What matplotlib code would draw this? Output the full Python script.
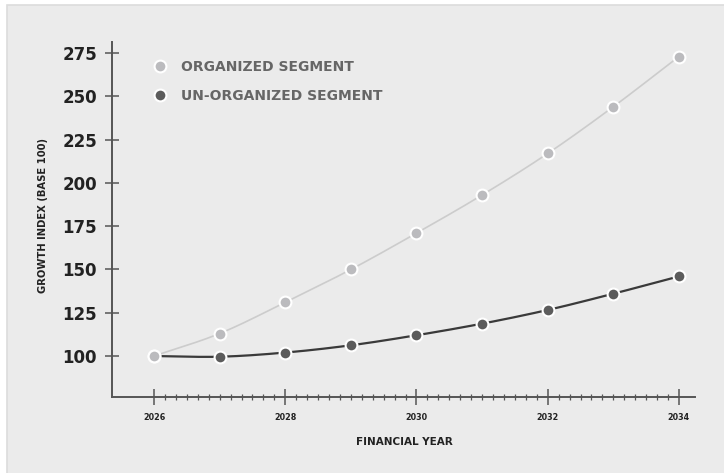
import numpy as np
import matplotlib
matplotlib.use('Agg')
import matplotlib.pyplot as plt
from matplotlib.patches import Rectangle
from matplotlib.lines import Line2D
from matplotlib.ticker import FixedLocator

years = [2026, 2027, 2028, 2029, 2030, 2031, 2032, 2033, 2034]
organized = [100, 113, 131, 150, 171, 193, 217, 244, 273]
unorganized = [100, 99.6, 102, 106.2, 112, 118.7, 126.6, 136, 146]
labels = ['ORGANIZED SEGMENT', 'UN-ORGANIZED SEGMENT']
y_ticks = [100, 125, 150, 175, 200, 225, 250, 275]
x_ticks = [2026, 2028, 2030, 2032, 2034]

light_dot = '#bbbbbe'
light_line = '#cccccc'
dark_dot = '#5c5c5c'
dark_line = '#3a3a3a'


def smooth(x, y, n=20):
    # catmull-rom curve through the points, only for drawing the line
    x = np.asarray(x, float)
    y = np.asarray(y, float)
    px = np.concatenate([[2 * x[0] - x[1]], x, [2 * x[-1] - x[-2]]])
    py = np.concatenate([[2 * y[0] - y[1]], y, [2 * y[-1] - y[-2]]])
    xs, ys = [], []
    t = np.linspace(0, 1, n)
    for i in range(1, len(px) - 2):
        for p, out in ((px, xs), (py, ys)):
            p0, p1, p2, p3 = p[i - 1], p[i], p[i + 1], p[i + 2]
            out.extend(0.5 * (2 * p1 + (-p0 + p2) * t
                              + (2 * p0 - 5 * p1 + 4 * p2 - p3) * t ** 2
                              + (-p0 + 3 * p1 - 3 * p2 + p3) * t ** 3))
    return np.array(xs), np.array(ys)


fig = plt.figure(figsize=(7.24, 4.73), dpi=100, facecolor='white')
fig.patches.append(Rectangle((7 / 724, -0.01), 1, 1 - 5 / 473 + 0.01,
                             transform=fig.transFigure, facecolor='#ebebeb',
                             edgecolor='#dcdcdc', linewidth=1.2, zorder=-1))

ax = fig.add_axes([0.1543, 0.1613, 0.8052, 0.7499])
ax.set_zorder(1)
ax.set_facecolor('none')

sx, sy = smooth(years, unorganized)
ax.plot(sx, sy, color=dark_line, lw=1.6, zorder=2)
sx, sy = smooth(years, organized)
ax.plot(sx, sy, color=light_line, lw=1.2, zorder=2)
ax.plot(years, unorganized, 'o', ms=8.5, mfc=dark_dot, mec='white', mew=1.5, zorder=3)
ax.plot(years, organized, 'o', ms=8.5, mfc=light_dot, mec='white', mew=1.5, zorder=4)

ax.set_xlim(2025.355, 2034.24)
ax.set_ylim(76.5, 281.4)

for s in ['top', 'right']:
    ax.spines[s].set_visible(False)
for s in ['left', 'bottom']:
    ax.spines[s].set_color('#555555')
    ax.spines[s].set_linewidth(1.4)

ax.set_yticks(y_ticks)
ax.set_xticks(x_ticks)
# minor ticks every two months, only between first and last year
ax.xaxis.set_minor_locator(FixedLocator(np.arange(years[0], years[-1], 1 / 6)))
ax.tick_params(axis='y', direction='inout', length=10, width=1.1, color='#555555',
               pad=5.5, labelsize=12, labelcolor='#222222')
ax.tick_params(axis='x', which='major', direction='inout', length=11, width=1.1,
               color='#555555', pad=6.5, labelsize=5.8, labelcolor='#222222')
ax.tick_params(axis='x', which='minor', direction='inout', length=4.5, width=0.9,
               color='#555555')
for lab in ax.get_xticklabels() + ax.get_yticklabels():
    lab.set_fontweight('bold')

fig.text(404 / 724, 1 - 442 / 473, 'FINANCIAL YEAR', ha='center', va='center',
         fontsize=7.5, fontweight='bold', color='#222222')
fig.text(43 / 724, 1 - 215 / 473, 'GROWTH INDEX (BASE 100)', ha='center', va='center',
         rotation=90, fontsize=7.2, fontweight='bold', color='#222222')

handles = [Line2D([], [], ls='none', marker='o', ms=8.5, mfc=light_dot, mec='white', mew=1.5),
           Line2D([], [], ls='none', marker='o', ms=8.5, mfc=dark_dot, mec='white', mew=1.5)]
leg = ax.legend(handles, labels, loc='upper left', bbox_to_anchor=(0.062, 0.964),
                frameon=False, handletextpad=1.0, labelspacing=1.06,
                prop={'weight': 'bold', 'size': 10}, labelcolor='#666666',
                handlelength=1.0, borderaxespad=0)

fig.savefig('out.png', dpi=100, facecolor=fig.get_facecolor())
